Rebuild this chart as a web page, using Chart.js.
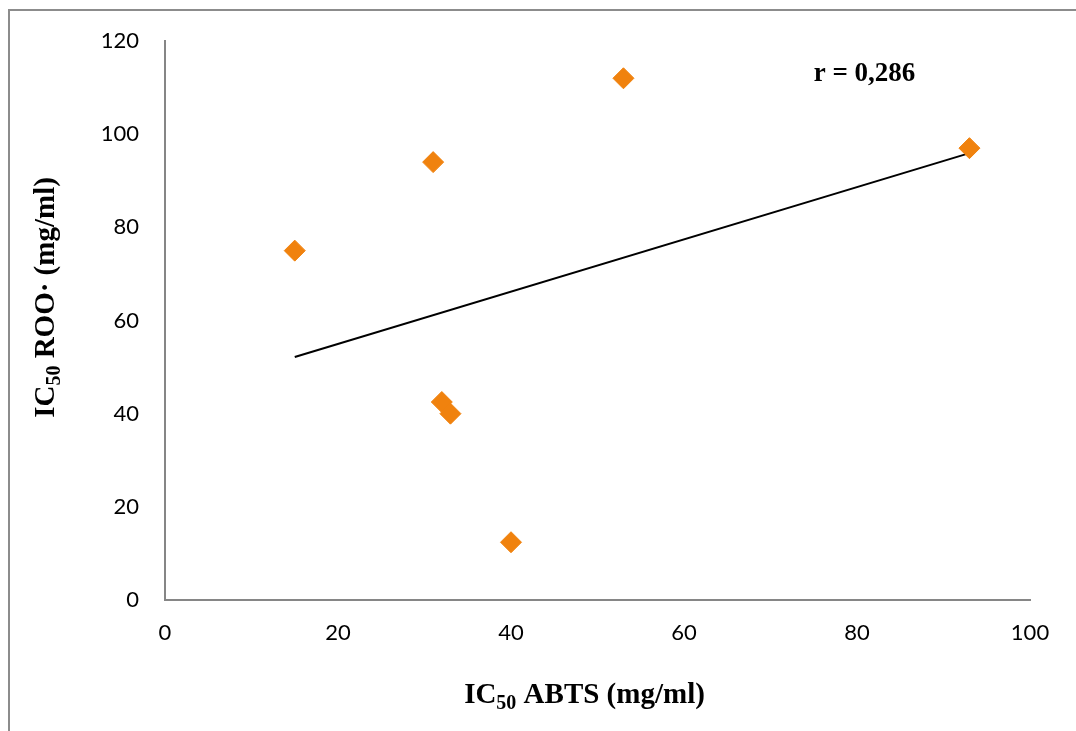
<!DOCTYPE html>
<html>
<head>
<meta charset="utf-8">
<script src="https://cdn.jsdelivr.net/npm/chart.js@4/dist/chart.umd.min.js"></script>
<style>
  html, body { margin: 0; padding: 0; background: #fff; }
  #wrap { width: 1076px; height: 731px; }
</style>
</head>
<body>
<div id="wrap"><canvas id="myChart" width="1076" height="731"></canvas></div>
<script>
// data
var abts = [15, 31, 53, 93, 32, 33, 40];
var roo = [75, 94, 112, 97, 42.5, 40, 12.4];
var xTicks = [0, 20, 40, 60, 80, 100];
var yTicks = [0, 20, 40, 60, 80, 100, 120];
var rLabel = "r = 0,286";

var points = abts.map(function (x, i) { return {x: x, y: roo[i]}; });

// least squares trend line between the smallest and largest x
function trend() {
  var n = abts.length, mx = 0, my = 0, sxy = 0, sxx = 0;
  for (var i = 0; i < n; i++) { mx += abts[i] / n; my += roo[i] / n; }
  for (var j = 0; j < n; j++) {
    sxy += (abts[j] - mx) * (roo[j] - my);
    sxx += (abts[j] - mx) * (abts[j] - mx);
  }
  var b = sxy / sxx, a = my - b * mx;
  var x0 = Math.min.apply(null, abts), x1 = Math.max.apply(null, abts);
  return [{x: x0, y: a + b * x0}, {x: x1, y: a + b * x1}];
}

// title text with a subscript part, drawn by hand
function drawSub(ctx, parts, cx, cy) {
  var big = "bold 29px 'Liberation Serif', 'Times New Roman', serif";
  var small = "bold 20px 'Liberation Serif', 'Times New Roman', serif";
  var total = 0;
  parts.forEach(function (p) { ctx.font = p.sub ? small : big; total += ctx.measureText(p.t).width; });
  var x = cx - total / 2;
  parts.forEach(function (p) {
    ctx.font = p.sub ? small : big;
    ctx.fillText(p.t, x, p.sub ? cy + 6 : cy);
    x += ctx.measureText(p.t).width;
  });
}

var extras = {
  id: 'extras',
  beforeDraw: function (chart) {
    var ctx = chart.ctx;
    ctx.save();
    ctx.strokeStyle = '#8c8c8c';
    ctx.lineWidth = 2;
    ctx.beginPath();
    ctx.moveTo(9, chart.height);
    ctx.lineTo(9, 10);
    ctx.lineTo(chart.width, 10);
    ctx.stroke();
    ctx.restore();
  },
  afterDraw: function (chart) {
    var ctx = chart.ctx, area = chart.chartArea;
    var xs = chart.scales.x, ys = chart.scales.y;
    ctx.save();
    ctx.fillStyle = '#000';
    ctx.textBaseline = 'alphabetic';
    ctx.textAlign = 'left';
    // x title
    drawSub(ctx, [{t: 'IC'}, {t: '50', sub: true}, {t: ' ABTS (mg/ml)'}],
      (area.left + area.right) / 2 - 13, area.bottom + 103);
    // y title
    ctx.save();
    ctx.translate(54, (area.top + area.bottom) / 2 - 23);
    ctx.rotate(-Math.PI / 2);
    drawSub(ctx, [{t: 'IC'}, {t: '50', sub: true}, {t: ' ROO\u00b7 (mg/ml)'}], 0, 0);
    ctx.restore();
    // r label
    ctx.font = "bold 27px 'Liberation Serif', 'Times New Roman', serif";
    ctx.textBaseline = 'middle';
    ctx.fillText(rLabel, xs.getPixelForValue(75), ys.getPixelForValue(113));
    ctx.restore();
  }
};

var tickFont = {family: "Lato, 'Open Sans', sans-serif", size: 22};

var ctx = document.getElementById("myChart");
var myChart = new Chart(ctx, {
  type: 'scatter',
  data: {
    datasets: [{
      label: 'IC50',
      data: points,
      pointStyle: 'rectRot',
      pointRadius: 10.5,
      pointHoverRadius: 10.5,
      backgroundColor: '#f0820e',
      borderColor: '#f0820e',
      borderWidth: 1
    }, {
      label: 'trend',
      data: trend(),
      showLine: true,
      pointRadius: 0,
      borderColor: '#000',
      borderWidth: 2
    }]
  },
  options: {
    responsive: false,
    animation: false,
    layout: { padding: {left: 0, right: 46, top: 41, bottom: 0} },
    plugins: { legend: {display: false}, tooltip: {enabled: false} },
    scales: {
      x: {
        type: 'linear', min: 0, max: 100,
        afterFit: function (s) { s.height = 131; },
        afterBuildTicks: function (s) { s.ticks = xTicks.map(function (v) { return {value: v}; }); },
        grid: {display: false, drawTicks: false},
        border: {display: true, color: '#868686', width: 2},
        ticks: {font: tickFont, color: '#000', padding: 20, maxRotation: 0}
      },
      y: {
        type: 'linear', min: 0, max: 120,
        afterFit: function (s) { s.width = 165; },
        afterBuildTicks: function (s) { s.ticks = yTicks.map(function (v) { return {value: v}; }); },
        grid: {display: false, drawTicks: false},
        border: {display: true, color: '#868686', width: 2},
        ticks: {font: tickFont, color: '#000', padding: 26}
      }
    }
  },
  plugins: [extras]
});
</script>
</body>
</html>
